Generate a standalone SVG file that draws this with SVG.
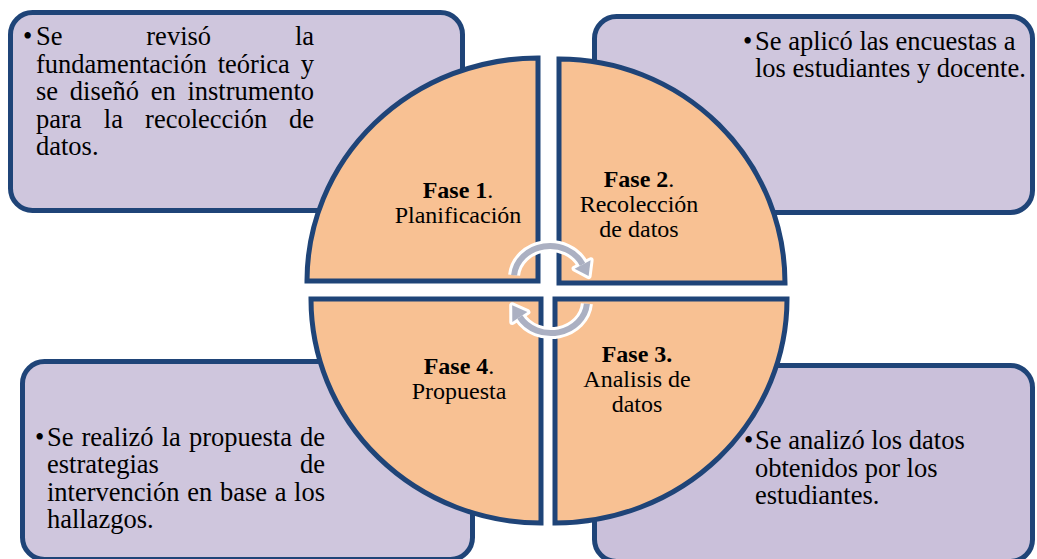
<svg xmlns="http://www.w3.org/2000/svg" width="1037" height="559" viewBox="0 0 1037 559">
<style>
.box{stroke:#1F4478;stroke-width:5;}
.b1{fill:#CFC6DD;}
.b2{fill:#CAC0DA;}
.q{fill:#F8C193;stroke:#1F4478;stroke-width:5;stroke-linejoin:miter;}
.t{font-family:'Liberation Serif','Times New Roman',serif;font-size:26.5px;fill:#000;}
.e{text-anchor:end;}
.l{font-family:'Liberation Serif','Times New Roman',serif;font-size:24px;fill:#000;text-anchor:middle;}
.bd{font-weight:bold;}
.ow{fill:none;stroke:#FFFFFF;stroke-width:12;}
.owh{fill:#FFFFFF;stroke:#FFFFFF;stroke-width:6;stroke-linejoin:round;}
.ag{fill:none;stroke:#ABB0C2;stroke-width:6;}
.agh{fill:#ABB0C2;}
</style>
<rect width="1037" height="559" fill="#FFFFFF"/>
<g id="box1">
<rect class="box b1" x="10.5" y="12.5" width="452" height="198" rx="22"/>
<text class="t"><tspan x="23" y="45">•</tspan><tspan x="36" y="45">Se</tspan><tspan x="146.3" y="45">revisó</tspan><tspan class="e" x="314" y="45">la</tspan><tspan x="36" y="72.5">fundamentación</tspan><tspan x="217.7" y="72.5">teórica</tspan><tspan class="e" x="314" y="72.5">y</tspan><tspan x="36" y="100">se</tspan><tspan x="69.8" y="100">diseñó</tspan><tspan x="150.7" y="100">en</tspan><tspan class="e" x="314" y="100">instrumento</tspan><tspan x="36" y="127.5">para</tspan><tspan x="103.8" y="127.5">la</tspan><tspan x="145.1" y="127.5">recolección</tspan><tspan class="e" x="314" y="127.5">de</tspan><tspan x="36" y="155">datos.</tspan></text>
</g>
<g id="box2">
<rect class="box b1" x="594.5" y="16.5" width="438" height="196" rx="22"/>
<text class="t"><tspan x="743" y="49.5">•</tspan><tspan x="755" y="49.5">Se aplicó las encuestas a</tspan><tspan x="755" y="77">los estudiantes y docente.</tspan></text>
</g>
<g id="box4">
<rect class="box b1" x="22.5" y="361.5" width="450" height="198" rx="22"/>
<text class="t"><tspan x="35" y="445.5">•</tspan><tspan x="47" y="445.5">Se</tspan><tspan x="81.5" y="445.5">realizó</tspan><tspan x="161.7" y="445.5">la</tspan><tspan x="188.9" y="445.5">propuesta</tspan><tspan class="e" x="325" y="445.5">de</tspan><tspan x="47" y="473">estrategias</tspan><tspan class="e" x="325" y="473">de</tspan><tspan x="47" y="500.5">intervención</tspan><tspan x="187.2" y="500.5">en</tspan><tspan x="219.9" y="500.5">base</tspan><tspan x="274.7" y="500.5">a</tspan><tspan class="e" x="325" y="500.5">los</tspan><tspan x="47" y="528">hallazgos.</tspan></text>
</g>
<g id="box3">
<rect class="box b2" x="594.5" y="365.5" width="438" height="196" rx="22"/>
<text class="t"><tspan x="744" y="449">•</tspan><tspan x="755" y="449">Se analizó los datos</tspan><tspan x="755" y="476.5">obtenidos por los</tspan><tspan x="755" y="504">estudiantes.</tspan></text>
</g>
<g id="fase1">
<path class="q" d="M538,281 L307,281 A231,223 0 0 1 538,58 Z"/>
<text class="l"><tspan x="458" y="198"><tspan class="bd">Fase 1</tspan>.</tspan><tspan x="458" y="223">Planificación</tspan></text>
</g>
<g id="fase2">
<path class="q" d="M559,283 L559,59 A226,224 0 0 1 785,283 Z"/>
<text class="l"><tspan x="639" y="187"><tspan class="bd">Fase 2</tspan>.</tspan><tspan x="639" y="212">Recolección</tspan><tspan x="639" y="237">de datos</tspan></text>
</g>
<g id="fase3">
<path class="q" d="M555,299 L787,299 A232,224 0 0 1 555,523 Z"/>
<text class="l"><tspan class="bd" x="637" y="362">Fase 3.</tspan><tspan x="637" y="387">Analisis de</tspan><tspan x="637" y="412">datos</tspan></text>
</g>
<g id="fase4">
<path class="q" d="M541,299 L541,523 A230,224 0 0 1 311,299 Z"/>
<text class="l"><tspan x="459" y="374"><tspan class="bd">Fase 4</tspan>.</tspan><tspan x="459" y="399">Propuesta</tspan></text>
</g>
<g id="connectors">
<path class="ow" d="M514.1,275.2 A36,32 0 0 1 582.6,264.5"/>
<polygon class="owh" points="590.6,260.3 574.6,268.7 588.6,276"/>
<path class="ow" d="M586.9,303.8 A36,32 0 0 1 519.8,317"/>
<polygon class="owh" points="512.3,321.9 527.4,312.1 512.2,305.3"/>
<path class="ag" d="M514.1,275.2 A36,32 0 0 1 582.6,264.5"/>
<polygon class="agh" points="590.6,260.3 574.6,268.7 588.6,276"/>
<path class="ag" d="M586.9,303.8 A36,32 0 0 1 519.8,317"/>
<polygon class="agh" points="512.3,321.9 527.4,312.1 512.2,305.3"/>
</g>
</svg>
